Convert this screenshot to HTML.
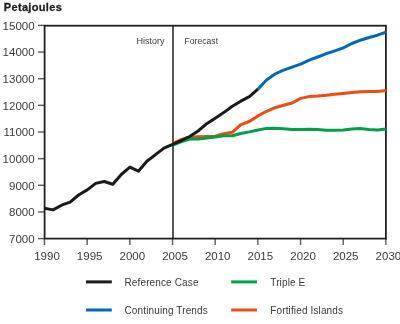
<!DOCTYPE html>
<html><head><meta charset="utf-8"><style>
html,body{margin:0;padding:0;background:#fff;}
body{width:400px;height:324px;overflow:hidden;position:relative;}
svg{position:absolute;left:0;top:0;will-change:transform;}
text{font-family:"Liberation Sans",sans-serif;fill:#3a3a3a;}
.ax{font-size:11.5px;}
.tk{stroke:#5a5a5a;stroke-width:1.4;}
.ln{fill:none;stroke-width:3;stroke-linejoin:round;stroke-linecap:butt;}
</style></head><body>
<svg width="400" height="324" viewBox="0 0 400 324">
<text x="3.8" y="10.6" style="font-size:11px;font-weight:bold;fill:#231f20;stroke:#231f20;stroke-width:0.3;letter-spacing:0.33px">Petajoules</text>
<line x1="38" y1="238.60" x2="44.5" y2="238.60" class="tk"/><line x1="38" y1="211.95" x2="44.5" y2="211.95" class="tk"/><line x1="38" y1="185.30" x2="44.5" y2="185.30" class="tk"/><line x1="38" y1="158.65" x2="44.5" y2="158.65" class="tk"/><line x1="38" y1="132.00" x2="44.5" y2="132.00" class="tk"/><line x1="38" y1="105.35" x2="44.5" y2="105.35" class="tk"/><line x1="38" y1="78.70" x2="44.5" y2="78.70" class="tk"/><line x1="38" y1="52.05" x2="44.5" y2="52.05" class="tk"/><line x1="38" y1="25.40" x2="44.5" y2="25.40" class="tk"/><line x1="44.50" y1="238.6" x2="44.50" y2="245" class="tk"/><line x1="87.17" y1="238.6" x2="87.17" y2="245" class="tk"/><line x1="129.85" y1="238.6" x2="129.85" y2="245" class="tk"/><line x1="172.53" y1="238.6" x2="172.53" y2="245" class="tk"/><line x1="215.20" y1="238.6" x2="215.20" y2="245" class="tk"/><line x1="257.88" y1="238.6" x2="257.88" y2="245" class="tk"/><line x1="300.55" y1="238.6" x2="300.55" y2="245" class="tk"/><line x1="343.23" y1="238.6" x2="343.23" y2="245" class="tk"/><line x1="385.90" y1="238.6" x2="385.90" y2="245" class="tk"/>
<text x="34.6" y="243.00" text-anchor="end" class="ax">7000</text><text x="34.6" y="216.35" text-anchor="end" class="ax">8000</text><text x="34.6" y="189.70" text-anchor="end" class="ax">9000</text><text x="34.6" y="163.05" text-anchor="end" class="ax">10000</text><text x="34.6" y="136.40" text-anchor="end" class="ax">11000</text><text x="34.6" y="109.75" text-anchor="end" class="ax">12000</text><text x="34.6" y="83.10" text-anchor="end" class="ax">13000</text><text x="34.6" y="56.45" text-anchor="end" class="ax">14000</text><text x="34.6" y="29.80" text-anchor="end" class="ax">15000</text><text x="47.00" y="259.9" text-anchor="middle" class="ax">1990</text><text x="89.67" y="259.9" text-anchor="middle" class="ax">1995</text><text x="132.35" y="259.9" text-anchor="middle" class="ax">2000</text><text x="175.03" y="259.9" text-anchor="middle" class="ax">2005</text><text x="217.70" y="259.9" text-anchor="middle" class="ax">2010</text><text x="260.38" y="259.9" text-anchor="middle" class="ax">2015</text><text x="303.05" y="259.9" text-anchor="middle" class="ax">2020</text><text x="345.73" y="259.9" text-anchor="middle" class="ax">2025</text><text x="388.40" y="259.9" text-anchor="middle" class="ax">2030</text>
<text x="136.5" y="44.0" style="font-size:9px">History</text>
<text x="184.6" y="44.2" style="font-size:8.6px">Forecast</text>
<rect x="44.6" y="25.7" width="341.30" height="212.90" fill="none" stroke="#231f20" stroke-width="1.8"/>
<line x1="173" y1="25.5" x2="173" y2="238.6" stroke="#231f20" stroke-width="1.5"/>
<polyline class="ln" stroke="#ef4b12" points="172.6,143.6 181.1,139.6 189.6,137 198.1,136.8 206.7,136.6 215.2,136.3 223.7,133.8 232.3,132.3 240.8,124.6 249.4,121.5 257.9,115.9 266.5,111.3 275,107.7 283.5,105.3 292.1,103 300.6,98.4 309.2,96.6 317.7,96.1 326.3,95.3 334.8,94.3 343.3,93.5 351.9,92.6 360.4,91.8 369,91.6 377.5,91.4 386,90.6"/>
<polyline class="ln" stroke="#00a04a" points="172.6,145 181.1,141.8 189.6,139 198.1,139 206.7,138 215.2,137 223.7,135.7 232.3,135.8 240.8,133.5 249.4,131.9 257.9,130 266.5,128.4 275,128.2 283.5,128.8 292.1,129.4 300.6,129.4 309.2,129.2 317.7,129.6 326.3,130.2 334.8,130.2 343.3,129.9 351.9,129.1 360.4,128.4 369,129.4 377.5,130 386,129"/>
<polyline class="ln" stroke="#0068b7" points="257.9,89.2 266.5,80 275,74 283.5,70.1 292.1,67.2 300.6,64.2 309.2,60.2 317.7,57 326.3,53.7 334.8,50.9 343.3,47.8 351.9,43.5 360.4,40.2 369,37.5 377.5,35.2 386,32.1"/>
<polyline class="ln" stroke="#1a1a1a" points="44.5,208.2 53,209.9 61.6,205.2 70.1,202.2 78.6,195 87.2,189.9 95.7,183.4 104.2,181.5 112.8,184.3 121.3,174.5 129.9,167.1 138.4,171.2 146.9,161.2 155.5,154.6 164,148.1 172.6,144.4 181.1,140.6 189.6,136.5 198.1,131 206.7,123.7 215.2,118.2 223.7,112.6 232.3,106.3 240.8,101.2 249.4,96.7 257.9,89.2"/>
<line x1="86" y1="281.9" x2="111.8" y2="281.9" stroke="#1a1a1a" stroke-width="3"/>
<line x1="86" y1="310.0" x2="111.8" y2="310.0" stroke="#0068b7" stroke-width="3"/>
<line x1="231.2" y1="281.9" x2="257" y2="281.9" stroke="#00a04a" stroke-width="3"/>
<line x1="231.2" y1="310.0" x2="257" y2="310.0" stroke="#ef4b12" stroke-width="3"/>
<text x="124.5" y="286.2" style="font-size:10px;letter-spacing:0.13px">Reference Case</text>
<text x="124.5" y="314.0" style="font-size:10px;letter-spacing:0.13px">Continuing Trends</text>
<text x="270.3" y="286.2" style="font-size:10px;letter-spacing:0.13px">Triple E</text>
<text x="270.3" y="314.0" style="font-size:10px;letter-spacing:0.13px">Fortified Islands</text>
</svg>
</body></html>
